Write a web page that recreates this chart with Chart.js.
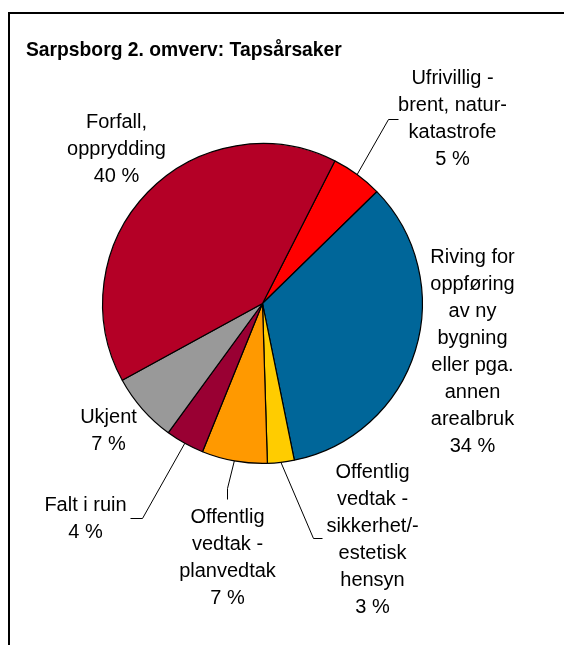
<!DOCTYPE html>
<html>
<head>
<meta charset="utf-8">
<script src="https://cdn.jsdelivr.net/npm/chart.js@4.4.0/dist/chart.umd.min.js"></script>
<style>
  html, body { margin: 0; padding: 0; background: #fff; }
  #wrap { position: relative; width: 564px; height: 645px; }
  #frame { position: absolute; left: 8px; top: 12px; right: 0; bottom: 0;
           border-left: 2px solid #000; border-top: 2px solid #000; }
  canvas { position: absolute; left: 0; top: 0; }
</style>
</head>
<body>
<div id="wrap">
  <div id="frame"></div>
  <canvas id="pie" width="564" height="645"></canvas>
</div>
<script>
const chartTitle = 'Sarpsborg 2. omverv: Tapsårsaker';

const categories = [
    'Ufrivillig - brent, naturkatastrofe',
    'Riving for oppføring av ny bygning eller pga. annen arealbruk',
    'Offentlig vedtak - sikkerhet/-estetisk hensyn',
    'Offentlig vedtak - planvedtak',
    'Falt i ruin',
    'Ukjent',
    'Forfall, opprydding'
];
const labelLines = [
    ['Ufrivillig -', 'brent, natur-', 'katastrofe'],
    ['Riving for', 'oppføring', 'av ny', 'bygning', 'eller pga.', 'annen', 'arealbruk'],
    ['Offentlig', 'vedtak -', 'sikkerhet/-', 'estetisk', 'hensyn'],
    ['Offentlig', 'vedtak -', 'planvedtak'],
    ['Falt i ruin'],
    ['Ukjent'],
    ['Forfall,', 'opprydding']
];
const values = [5.2, 34.1, 2.7, 6.6, 3.9, 7.0, 40.4];
const colors = ['#FF0000', '#006699', '#FFCC00', '#FF9900', '#990033', '#999999', '#B40026'];

// label placement, px from pie centre (centre of first text line)
const labelPos = [
    { dx: 190, dy: -225 },
    { dx: 210, dy: -46 },
    { dx: 110, dy: 169 },
    { dx: -35, dy: 214 },
    { dx: -177, dy: 202 },
    { dx: -154, dy: 114 },
    { dx: -146, dy: -181 }
];
// leader lines: elbow and end, px from pie centre
const leaders = [
    [{ dx: 126, dy: -184 }, { dx: 136, dy: -184 }],
    null,
    [{ dx: 51, dy: 235 }, { dx: 60, dy: 235 }],
    [{ dx: -35, dy: 185 }, { dx: -35, dy: 196 }],
    [{ dx: -120, dy: 215 }, { dx: -132, dy: 215 }],
    null,
    null
];

const pieLabels = {
    id: 'pieLabels',
    afterDraw(chart) {
        const ctx = chart.ctx;
        const meta = chart.getDatasetMeta(0);
        const total = values.reduce((a, b) => a + b, 0);
        ctx.save();
        ctx.fillStyle = '#000';
        ctx.font = 'bold 19.3px "Liberation Sans", Arial, sans-serif';
        ctx.textAlign = 'left';
        ctx.textBaseline = 'alphabetic';
        ctx.fillText(chartTitle, 26, 56);

        ctx.font = '20px "Liberation Sans", Arial, sans-serif';
        ctx.textAlign = 'center';
        ctx.textBaseline = 'middle';
        meta.data.forEach((arc, i) => {
            const p = arc.getProps(['x', 'y', 'startAngle', 'endAngle', 'outerRadius'], true);
            const mid = (p.startAngle + p.endAngle) / 2;
            const lines = labelLines[i].concat([Math.round(values[i] / total * 100) + ' %']);
            const lx = p.x + labelPos[i].dx;
            let ly = p.y + labelPos[i].dy;
            lines.forEach(t => { ctx.fillText(t, lx, ly); ly += 27; });
            const ld = leaders[i];
            if (ld) {
                ctx.beginPath();
                ctx.strokeStyle = '#000';
                ctx.lineWidth = 1;
                ctx.moveTo(p.x + Math.cos(mid) * p.outerRadius, p.y + Math.sin(mid) * p.outerRadius);
                ctx.lineTo(p.x + ld[0].dx, p.y + ld[0].dy);
                ctx.lineTo(p.x + ld[1].dx, p.y + ld[1].dy);
                ctx.stroke();
            }
        });
        ctx.restore();
    }
};

new Chart(document.getElementById('pie'), {
    type: 'pie',
    data: {
        labels: categories,
        datasets: [{
            data: values,
            backgroundColor: colors,
            borderColor: '#000',
            borderWidth: 1.2
        }]
    },
    options: {
        responsive: false,
        animation: false,
        devicePixelRatio: 1,
        rotation: 26.9,
        layout: { padding: { left: 102, right: 141, top: 143, bottom: 181 } },
        plugins: {
            legend: { display: false },
            tooltip: { enabled: false },
            title: { display: false }
        }
    },
    plugins: [pieLabels]
});
</script>
</body>
</html>
